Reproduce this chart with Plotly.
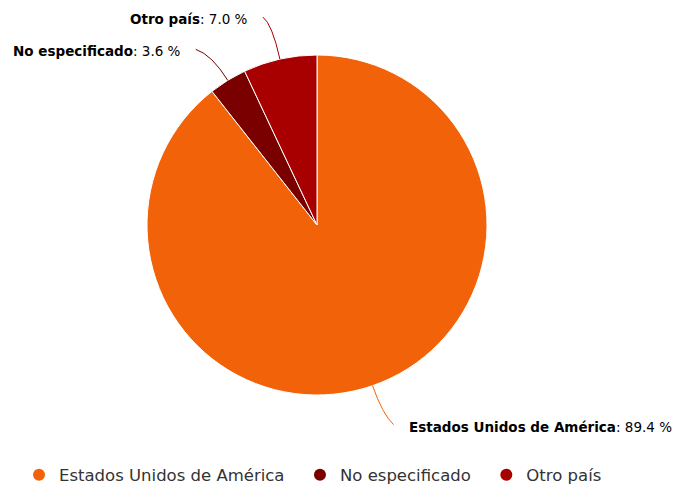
import math
import plotly.graph_objects as go

labels = ["Estados Unidos de América", "No especificado", "Otro país"]
values = [89.4, 3.6, 7.0]
colors = ["#F26208", "#7A0000", "#A80000"]

W, H = 676, 487
cx, cy, r = 317, 225, 170

fig = go.Figure()
fig.add_trace(go.Pie(
    labels=labels, values=values, sort=False, direction="clockwise", rotation=0,
    marker=dict(colors=colors, line=dict(color="white", width=1)),
    textinfo="none", textposition="none", hoverinfo="label+percent", showlegend=False,
    domain=dict(x=[(cx - r) / W, (cx + r) / W], y=[1 - (cy + r) / H, 1 - (cy - r) / H]),
))

# legend entries with circular markers
pads = ["\u00a0\u00a0", "\u00a0\u00a0", ""]
for lab, col, pad in zip(labels, colors, pads):
    fig.add_trace(go.Scatter(x=[None], y=[None], mode="markers", name=lab + pad,
                             marker=dict(color=col, size=14, symbol="circle")))


def px2p(x, y):
    return x / W, 1 - y / H


# data labels with curved connectors, positioned from slice mid-angles
# (label dx, dy from slice edge, radial reach of the bend, side)
offsets = {0: (34, 41, 30, 1), 1: (-45, -29, 30, -1), 2: (-30, -40, 36, -1)}
gap = 13
total = sum(values)
cum = 0
for i, (lab, v, col) in enumerate(zip(labels, values, colors)):
    mid = (cum + v / 2) / total * 2 * math.pi
    cum += v
    dirx, diry = math.sin(mid), -math.cos(mid)
    px, py = cx + r * dirx, cy + r * diry
    dx, dy, reach, side = offsets[i]
    tx, ty = px + dx, py + dy
    ex, ey = tx - side * gap, ty - 2
    qx, qy = px + reach * dirx, py + reach * diry
    p0, q, p1 = px2p(px, py), px2p(qx, qy), px2p(ex, ey)
    fig.add_shape(type="path", xref="paper", yref="paper",
                  path=f"M {p0[0]},{p0[1]} Q {q[0]},{q[1]} {p1[0]},{p1[1]}",
                  line=dict(color=col, width=1))
    t = px2p(tx, ty)
    fig.add_annotation(
        x=t[0], y=t[1], xref="paper", yref="paper", showarrow=False,
        text=f"<b>{lab}</b>: {v:.1f} %", xanchor="left" if side > 0 else "right",
        yanchor="middle",
        font=dict(family="DejaVu Sans", size=13.5, color="#000000"),
    )

fig.update_layout(
    width=W, height=H, margin=dict(l=0, r=0, t=0, b=0, autoexpand=False),
    paper_bgcolor="white", plot_bgcolor="white",
    xaxis=dict(visible=False), yaxis=dict(visible=False),
    legend=dict(orientation="h", x=313 / W, xanchor="center", y=1 - 475 / H, yanchor="middle",
                font=dict(family="DejaVu Sans", size=16.5, color="#333333"),
                itemsizing="constant"),
)

fig.write_html("out.html", config={"displayModeBar": False},
               post_script="document.body.style.margin='0';")
